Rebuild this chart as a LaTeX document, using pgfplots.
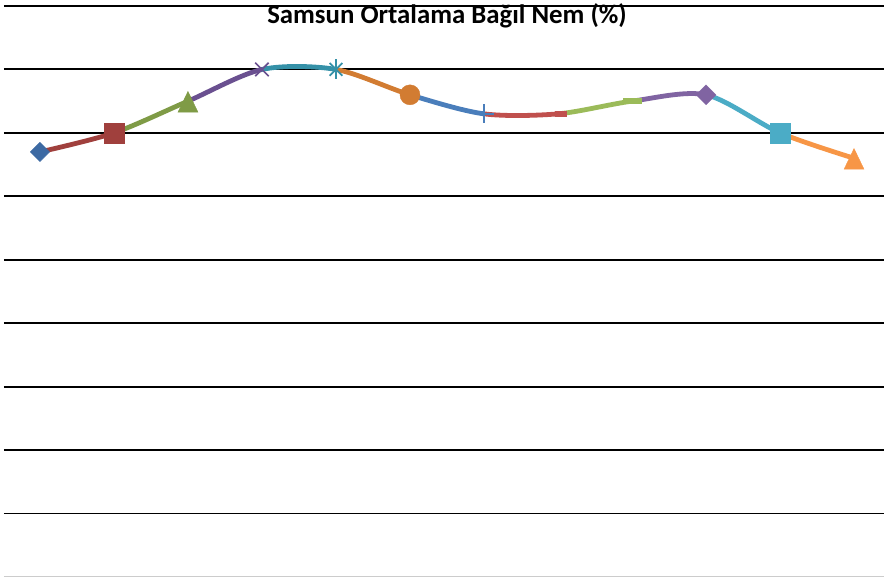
\documentclass[border=0pt]{standalone}
\usepackage{pgfplots}
\pgfplotsset{compat=1.18}
\usepackage{pgfplotstable}
\usepackage{fontspec}
\setmainfont{Carlito}
\definecolor{cA}{HTML}{3D6AA3}
\definecolor{cB}{HTML}{A0403D}
\definecolor{cC}{HTML}{7F9B46}
\definecolor{cD}{HTML}{6A5090}
\definecolor{cE}{HTML}{3591A8}
\definecolor{cF}{HTML}{D27C32}
\definecolor{cG}{HTML}{4A7EBB}
\definecolor{cH}{HTML}{C0504D}
\definecolor{cI}{HTML}{9BBB59}
\definecolor{cJ}{HTML}{8064A2}
\definecolor{cK}{HTML}{4BACC6}
\definecolor{cL}{HTML}{F79646}
\pgfplotstableread{
x y
1 67
2 70
3 75
4 80
5 80
6 76
7 73
8 73
9 75
10 76
11 70
12 66
}\data
\newcommand{\seg}[5]{%
  \begin{scope}
  \clip (axis cs:#1,-5) rectangle (axis cs:#2,95);
  \addplot[color=#5, line width=4.8bp, smooth, no marks, restrict x to domain=#3:#4] table[x=x,y=y] {\data};
  \end{scope}}
\begin{document}
\begin{tikzpicture}
\begin{axis}[
  scale only axis, width=880bp, height=571bp,
  xmin=0.514, xmax=12.405, ymin=0, ymax=90,
  axis line style={draw=none},
  xtick=\empty, ytick={10,20,...,90}, yticklabels={},
  major tick length=0pt,
  ymajorgrids, grid style={black, line width=1.9bp},
  clip=false,
]
\draw[gray!40, line width=1.2bp] (rel axis cs:0,0) -- (rel axis cs:1,0);
\coordinate (bl) at (rel axis cs:0,0);
\coordinate (tr) at (rel axis cs:1,1);
\coordinate (T) at (axis cs:6.5,87.3);
\seg{1}{2}{0}{3}{cB}
\seg{2}{3}{1}{4}{cC}
\seg{3}{4}{2}{5}{cD}
\seg{4}{5}{3}{6}{cE}
\seg{5}{6}{4}{7}{cF}
\seg{6}{7}{5}{8}{cG}
\seg{7}{8}{6}{9}{cH}
\seg{8}{9}{7}{10}{cI}
\seg{9}{10}{8}{11}{cJ}
\seg{10}{11}{9}{12}{cK}
\seg{11}{12}{10}{13}{cL}
% markers
\addplot[only marks, mark=square*, mark size=6.8bp, color=cA, mark options={rotate=45}] coordinates {(1,67)};
\addplot[only marks, mark=square*, mark size=10bp, color=cB] coordinates {(2,70)};
\addplot[only marks, mark=triangle*, mark size=11.5bp, color=cC, mark options={yscale=1.2, yshift=-3.4bp}] coordinates {(3,75)};
\addplot[only marks, mark=x, mark size=9.5bp, color=cD, mark options={line width=1.7bp}] coordinates {(4,80)};
\addplot[only marks, mark=x, mark size=9bp, color=cE, mark options={line width=1.7bp}] coordinates {(5,80)};
\addplot[only marks, mark=|, mark size=10bp, color=cE, mark options={line width=1.7bp}] coordinates {(5,80)};
\addplot[only marks, mark=*, mark size=10bp, color=cF] coordinates {(6,76)};
\addplot[only marks, mark=+, mark size=9.5bp, color=cG, mark options={line width=1.7bp}] coordinates {(7,73)};
\addplot[only marks, mark=-, mark size=5.8bp, color=cH, mark options={line width=5.5bp, xshift=3bp}] coordinates {(8,73)};
\addplot[only marks, mark=-, mark size=9.5bp, color=cI, mark options={line width=5.5bp}] coordinates {(9,75)};
\addplot[only marks, mark=square*, mark size=7bp, color=cJ, mark options={rotate=45}] coordinates {(10,76)};
\addplot[only marks, mark=square*, mark size=10bp, color=cK] coordinates {(11,70)};
\addplot[only marks, mark=triangle*, mark size=11.5bp, color=cL, mark options={yscale=1.2, yshift=-3.4bp}] coordinates {(12,66)};
\end{axis}
\node[anchor=base, font={\fontsize{26.8bp}{30bp}\selectfont\bfseries}, inner sep=0pt] at (T) {Samsun Ortalama Bağıl Nem (\%)};
\pgfresetboundingbox
\path[use as bounding box] ([xshift=-4bp]bl) rectangle ([yshift=6bp]tr);
\end{tikzpicture}
\end{document}
